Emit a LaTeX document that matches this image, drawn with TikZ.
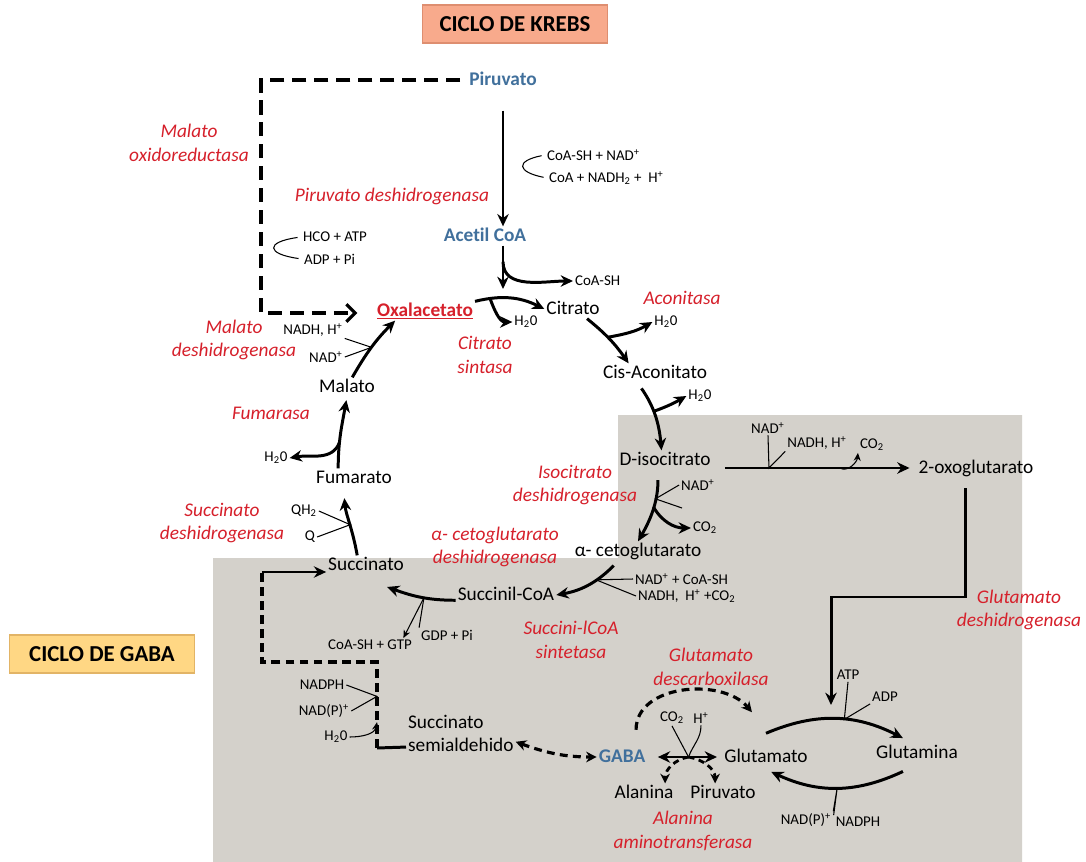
\documentclass[tikz,border=0pt]{standalone}
\usepackage{fontspec}
\setmainfont[Ligatures=NoCommon]{Carlito}
\usepackage{xcolor}
\usetikzlibrary{arrows.meta,positioning,calc}
\definecolor{enzred}{HTML}{D6202B}
\definecolor{keyblue}{HTML}{41709C}
\definecolor{gabagrey}{HTML}{D4D1CB}
\definecolor{krebsfill}{HTML}{F8AA8C}
\definecolor{krebsline}{HTML}{DE8E70}
\definecolor{gabafill}{HTML}{FFD784}
\definecolor{gabaline}{HTML}{E2B466}

\begin{document}
\begin{tikzpicture}[x=0.02cm,y=-0.02cm,>=Stealth,
  met/.style={inner sep=1pt,font=\fontsize{11}{13}\selectfont,text height=1.5ex,text depth=.3ex},
  key/.style={met,font=\fontsize{11}{13}\selectfont\bfseries,text=keyblue},
  enz/.style={inner sep=1pt,align=center,font=\fontsize{11}{13.5}\selectfont\itshape,text=enzred},
  cof/.style={inner sep=1pt,font=\fontsize{8.5}{10}\selectfont},
  rx/.style={-{Stealth[length=7pt,width=6.5pt]},line width=1.7pt},
  rxx/.style={{Stealth[length=7pt,width=6.5pt]}-{Stealth[length=7pt,width=6.5pt]},line width=1.7pt},
  side/.style={line width=.6pt},
  sidearr/.style={side,-{Stealth[length=4.5pt,width=4pt]}},
  dashpath/.style={line width=1.8pt,dash pattern=on 8pt off 4.5pt},
  dashshort/.style={line width=1.6pt,dash pattern=on 3.5pt off 2.5pt,-{Stealth[length=5.5pt,width=5.5pt]}},
  title/.style={draw,line width=.6pt,minimum width=3.7cm,minimum height=.76cm,font=\fontsize{13}{15}\selectfont\bfseries}]

  \useasboundingbox (0,0) rectangle (1086,862);
  \fill[white] (0,0) rectangle (1086,862);
  \fill[gabagrey] (618,415) -- (1022,415) -- (1022,862) -- (213,862) -- (213,558) -- (618,558) -- cycle;

  \node[title,fill=krebsfill,draw=krebsline] (krebs) at (515,24) {CICLO DE KREBS};
  \node[title,fill=gabafill,draw=gabaline] (gabat) at (102,654) {CICLO DE GABA};

  \node[key] (pir) at (503,80) {Piruvato};
  \node[key] (acet) at (485,236) {Acetil CoA};
  \node[met,font=\fontsize{11}{13}\selectfont\bfseries,text=enzred] (oxa) at (425,311) {\underline{Oxalacetato}};
  \node[met] (cit) at (573,309) {Citrato};
  \node[met] (cis) at (655,373) {Cis-Aconitato};
  \node[met] (disoc) at (665,460) {D-isocitrato};
  \node[met] (oxo) at (976,468) {2-oxoglutarato};
  \node[met] (akg) at (638,551) {α- cetoglutarato};
  \node[met] (succoa) at (506,595) {Succinil-CoA};
  \node[met] (succ) at (366,565) {Succinato};
  \node[met] (fum) at (354,478) {Fumarato};
  \node[met] (mal) at (347,387) {Malato};
  \node[inner sep=1pt,font=\fontsize{11}{13}\selectfont,align=left,anchor=west] (ssa) at (406,733) {Succinato\\semialdehido};
  \node[key] (gaba) at (622,757) {GABA};
  \node[met] (glu) at (766,757) {Glutamato};
  \node[met] (gln) at (917,753) {Glutamina};
  \node[met] (ala) at (644,793) {Alanina};
  \node[met] (pirb) at (723,793) {Piruvato};

  \node[enz] (mor) at (189,143) {Malato\\oxidoreductasa};
  \node[enz] (pdh) at (392,196) {Piruvato deshidrogenasa};
  \node[enz] (mdh) at (234,340) {Malato\\deshidrogenasa};
  \node[enz] (cs) at (485,355) {Citrato\\sintasa};
  \node[enz] (acn) at (682,298) {Aconitasa};
  \node[enz] (fuma) at (271,413) {Fumarasa};
  \node[enz] (idh) at (575,485) {Isocitrato\\deshidrogenasa};
  \node[enz] (sdh) at (222,523) {Succinato\\deshidrogenasa};
  \node[enz] (kgdh) at (495,547) {α- cetoglutarato\\deshidrogenasa};
  \node[enz] (scs) at (571,640) {Succini-lCoA\\sintetasa};
  \node[enz] (gdh) at (1019,610) {Glutamato\\deshidrogenasa};
  \node[enz] (gad) at (711,667) {Glutamato\\descarboxilasa};
  \node[enz] (alat) at (683,831) {Alanina\\aminotransferasa};

  \node[cof,anchor=west] (pdhin) at (545,155) {CoA-SH + NAD\textsuperscript{+}};
  \node[cof,anchor=west] (pdhout) at (547,178) {CoA + NADH\textsubscript{2} +\ \ H\textsuperscript{+}};
  \node[cof,anchor=west] (pcin) at (301,237) {HCO + ATP};
  \node[cof,anchor=west] (pcout) at (302,259) {ADP + Pi};
  \node[cof,anchor=west] (coash) at (573,281) {CoA-SH};
  \node[cof] (wcs) at (526,322) {H\textsubscript{2}0};
  \node[cof] (wacn) at (666,322) {H\textsubscript{2}0};
  \node[cof] (wcis) at (700,396) {H\textsubscript{2}0};
  \node[cof] (nadidh) at (698,485) {NAD\textsuperscript{+}};
  \node[cof] (co2idh) at (705,528) {CO\textsubscript{2}};
  \node[cof] (nadtop) at (768,428) {NAD\textsuperscript{+}};
  \node[cof] (nadhtop) at (817,443) {NADH, H\textsuperscript{+}};
  \node[cof] (co2top) at (872,445) {CO\textsubscript{2}};
  \node[cof,anchor=west] (kgin) at (633,579) {NAD\textsuperscript{+} + CoA-SH};
  \node[cof,anchor=west] (kgout) at (636,596) {NADH,\ \ H\textsuperscript{+} +CO\textsubscript{2}};
  \node[cof] (gtp) at (370,645) {CoA-SH + GTP};
  \node[cof] (gdp) at (447,635) {GDP + Pi};
  \node[cof] (qh) at (304,511) {QH\textsubscript{2}};
  \node[cof] (q) at (310,537) {Q};
  \node[cof] (wfum) at (276,458) {H\textsubscript{2}0};
  \node[cof] (nadhm) at (313,330) {NADH, H\textsuperscript{+}};
  \node[cof] (nadm) at (326,357) {NAD\textsuperscript{+}};
  \node[cof] (nadph) at (322,685) {NADPH};
  \node[cof] (nadp) at (324,711) {NAD(P)\textsuperscript{+}};
  \node[cof] (wssa) at (336,737) {H\textsubscript{2}0};
  \node[cof] (co2g) at (672,718) {CO\textsubscript{2}};
  \node[cof] (hg) at (701,718) {H\textsuperscript{+}};
  \node[cof] (atp) at (848,675) {ATP};
  \node[cof] (adp) at (885,697) {ADP};
  \node[cof] (nadpb) at (806,820) {NAD(P)\textsuperscript{+}};
  \node[cof] (nadphb) at (858,822) {NADPH};

  \coordinate (csin) at (503,289);
  \coordinate (idhe) at (682,508);
  \coordinate (gdhmid) at (831,597);
  \coordinate (gdhend) at (831,705);
  \coordinate (sr1) at (377,748);
  \coordinate (sr2) at (377,662);
  \coordinate (sr3) at (262,662);
  \coordinate (sr4) at (262,572);
  \coordinate (pcc) at (261,313);

  \draw[rx,shorten <=12pt] (pir.south) -- (pir.south |- acet.north);
  \draw[side,shorten <=2pt,shorten >=2pt] (pdhin.west) .. controls +(-30,6) and +(-30,-6) .. (pdhout.west);
  \draw[rx] (acet.south -| csin) -- coordinate[pos=.37] (acb) (csin);
  \draw[rx] (acb) to[out=-90,in=180] (coash.west);

  \draw[rx] (oxa.north east) to[bend left=20] coordinate[pos=.2] (csb) (cit.west);
  \draw[rx] (csb) to[out=-70,in=180] (wcs.west);
  \draw[rx] ([xshift=8pt]cit.south) to[bend left=8] coordinate[pos=.45] (acb2) ([xshift=-15pt]cis.north);
  \draw[rx] (acb2) to[out=10,in=210] (wacn.west);
  \draw[rx,shorten <=4pt] ([xshift=-10pt]cis.south) to[out=-55,in=95] coordinate[pos=.45] (cisb) ([xshift=-2pt]disoc.north);
  \draw[rx] (cisb) to[out=20,in=210] (wcis.west);
  \draw[rx,shorten <=6pt] ([xshift=-4pt]disoc.south) to[out=-90,in=60] coordinate[pos=.38] (idhb) coordinate[pos=.5] (idhc) (akg.north);
  \draw[side] (nadidh.west) -- (idhb) -- (idhe);
  \draw[rx] (idhc) to[out=-60,in=180] (co2idh.west);

  \draw[rx,shorten >=4pt] ([xshift=7pt]disoc.east |- oxo.west) -- coordinate[pos=.23] (icb) coordinate[pos=.6] (icc) (oxo.west);
  \draw[side] (nadtop.south) -- (icb) -- (nadhtop.south west);
  \draw[sidearr] (icc) to[out=-30,in=-95] (co2top.south west);
  \draw[rx,shorten <=6pt] ([xshift=-6pt]oxo.south) |- (gdhmid) -- (gdhend);

  \draw[rx] ([yshift=8pt]glu.north) to[bend left=25] coordinate[pos=.57] (gsa) ([xshift=-8pt,yshift=3pt]gln.north);
  \draw[side] (atp.south) -- (gsa) -- (adp.south west);
  \draw[rx] ([xshift=-8pt,yshift=-5pt]gln.south) to[bend left=25] coordinate[pos=.5] (gsb) ([xshift=3pt,yshift=-3pt]glu.south);
  \draw[side] (nadpb.north east) -- (gsb) -- (nadphb.north west);

  \draw[rxx,shorten <=6pt,shorten >=3pt] (gaba.east) -- coordinate[pos=.55] (ggb) (glu.west);
  \draw[side] (co2g.south) -- (ggb);
  \draw[side] (hg.south) to[out=-90,in=70] (ggb);
  \draw[dashshort] (ggb) to[out=190,in=90] ([xshift=12pt]ala.north);
  \draw[dashshort] (ggb) to[out=-10,in=90] ([xshift=-4.5pt]pirb.north);
  \draw[dashpath,dash pattern=on 4.5pt off 3pt,-{Stealth[length=6pt,width=6pt]}] ([xshift=8pt,yshift=10pt]gaba.north) to[out=90,in=130] ([xshift=-8pt,yshift=20pt]glu.north);
  \draw[dashpath,dash pattern=on 4.5pt off 3pt,{Stealth[length=6pt,width=6pt]}-{Stealth[length=6pt,width=6pt]}] ([yshift=-5pt]ssa.east) to[out=-20,in=180] (gaba.west);

  \draw[line width=1.7pt] ([yshift=-8pt]ssa.west) -- (sr1);
  \draw[dashpath,dash pattern=on 5pt off 3pt] (sr1) -- coordinate[pos=.3] (src) coordinate[pos=.6] (srb) (sr2) -- (sr3) -- (sr4);
  \draw[rx] (sr4) -- (sr4 -| succ.west);
  \draw[side] (nadph.east) -- (srb) -- (nadp.east);
  \draw[sidearr] (wssa.east) to[out=0,in=-100] (src);

  \draw[rx] ([yshift=-3pt]succoa.west) to[out=180,in=-20] coordinate[pos=.45] (scb) ([xshift=12pt,yshift=-7pt]succ.south);
  \draw[sidearr] (scb) -- ([xshift=-6pt]gtp.north east);
  \draw[side] (gdp.north west) -- (scb);
  \draw[rx,shorten <=4pt] ([xshift=-11pt]akg.south) to[out=-135,in=10] coordinate[pos=.4] (kgb) (succoa.east);
  \draw[side] (kgb) -- (kgin.west);
  \draw[side] (kgb) -- (kgout.west);

  \draw[rx,shorten >=6pt] ([xshift=-5pt]succ.north) to[out=100,in=-85] coordinate[pos=.45] (sdb) ([xshift=-6pt]fum.south);
  \draw[side] (qh.east) -- (sdb) -- (q.east);
  \draw[rx,shorten >=2pt] ([xshift=-9pt]fum.north) to[out=90,in=-100] coordinate[pos=.35] (fmb) (mal.south);
  \draw[rx] (fmb) to[out=-110,in=10] (wfum.east);
  \draw[rx] ([xshift=3pt]mal.north) to[out=60,in=-135] coordinate[pos=.5] (mob) ([xshift=-17pt]oxa.south);
  \draw[side] (nadhm.south east) -- (mob) -- (nadm.east);

  \draw[dashpath,-{Straight Barb[length=5pt,width=10pt]},shorten <=4pt,shorten >=10pt] (pir.west) -| (pcc) -- (pcc -| oxa.west);
  \draw[side,shorten <=2pt,shorten >=2pt] (pcin.west) .. controls +(-36,5) and +(-36,-5) .. (pcout.west);
\end{tikzpicture}
\end{document}
